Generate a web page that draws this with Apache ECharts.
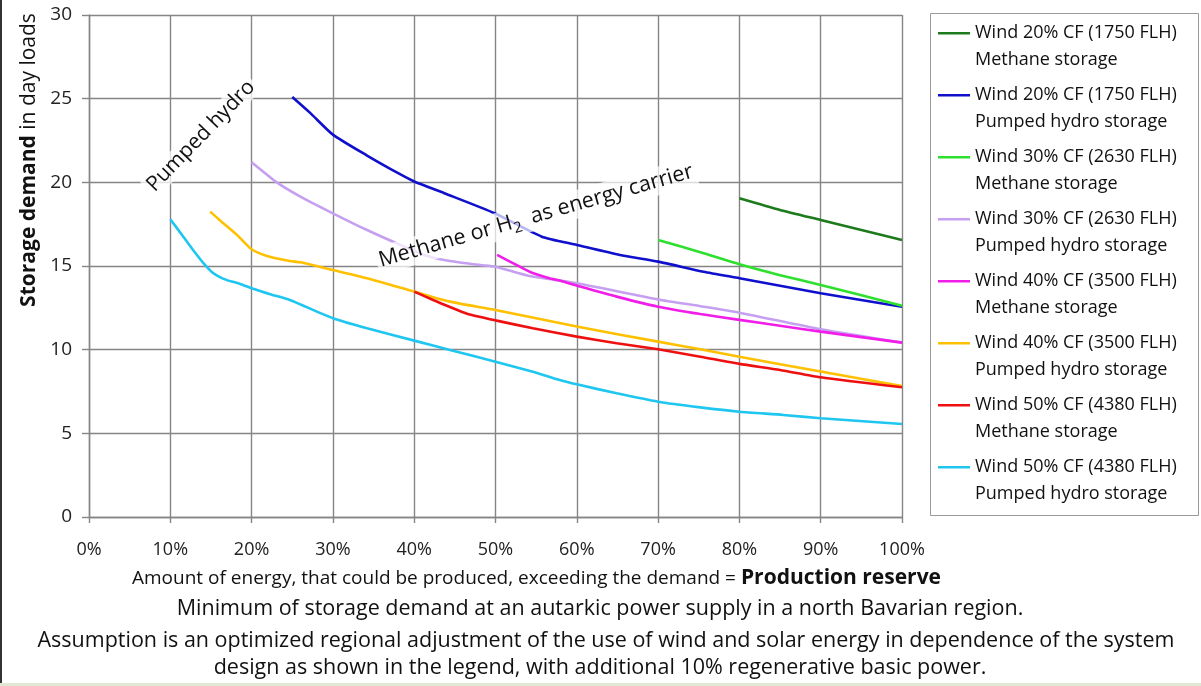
<!DOCTYPE html>
<html>
<head>
<meta charset="utf-8">
<script src="https://cdn.jsdelivr.net/npm/echarts@6/dist/echarts.min.js"></script>
<style>
html,body{margin:0;padding:0;background:#fff;}
#chart{width:1201px;height:686px;}
</style>
</head>
<body>
<div id="chart"></div>
<script>
// ---- data (x = production reserve %, y = storage demand in day loads) ----
const xTicks = [0, 10, 20, 30, 40, 50, 60, 70, 80, 90, 100];
const yTicks = [0, 5, 10, 15, 20, 25, 30];

const seriesNames = [
  'Wind 20% CF (1750 FLH)\nMethane storage',
  'Wind 20% CF (1750 FLH)\nPumped hydro storage',
  'Wind 30% CF (2630 FLH)\nMethane storage',
  'Wind 30% CF (2630 FLH)\nPumped hydro storage',
  'Wind 40% CF (3500 FLH)\nMethane storage',
  'Wind 40% CF (3500 FLH)\nPumped hydro storage',
  'Wind 50% CF (4380 FLH)\nMethane storage',
  'Wind 50% CF (4380 FLH)\nPumped hydro storage'
];
const seriesColors = ['#1d7a1d', '#1010cc', '#2ee02e', '#c6a0f0', '#f01ee8', '#ffc000', '#ee1010', '#1ec6f0'];

const wind20Methane = [[80,19.05],[85,18.35],[90,17.75],[95,17.15],[100,16.55]];
const wind20Pumped = [[25,25.1],[27.2,24.15],[30,22.85],[34.2,21.6],[38.2,20.5],[40,20.05],[43.7,19.35],[49.9,18.15],[55.7,16.75],[60,16.26],[65.3,15.66],[70,15.26],[75.6,14.66],[80,14.27],[90,13.37],[100,12.57]];
const wind30Methane = [[70,16.56],[75.6,15.76],[80,15.1],[85,14.45],[90,13.87],[100,12.62]];
const wind30Pumped = [[20,21.2],[23.1,20.0],[26,19.15],[30,18.15],[34.2,17.15],[38.3,16.26],[41.6,15.6],[44.4,15.3],[48.1,15.06],[50,14.96],[54.2,14.4],[60,13.97],[70,13.0],[75.2,12.6],[80,12.21],[90,11.22],[100,10.42]];
const wind40Methane = [[50.2,15.66],[52.2,15.16],[54.2,14.66],[56.3,14.32],[58.3,14.07],[60.4,13.77],[64.9,13.17],[70,12.57],[75.2,12.13],[80,11.78],[85.4,11.4],[90,11.08],[100,10.42]];
const wind40Pumped = [[14.9,18.25],[16.3,17.65],[18.2,16.86],[20,16.0],[21.9,15.6],[24.7,15.3],[26,15.22],[30,14.76],[34.2,14.27],[40,13.47],[44.4,12.87],[50,12.37],[60,11.38],[70,10.48],[75.2,10.02],[80,9.58],[90,8.69],[100,7.82]];
const wind50Methane = [[40,13.47],[42.4,12.95],[44.4,12.55],[46.5,12.15],[50,11.75],[54.6,11.28],[60,10.78],[64.9,10.38],[70,10.02],[75.2,9.58],[80,9.15],[85,8.79],[90,8.35],[100,7.75]];
const wind50Pumped = [[10,17.79],[11.6,16.75],[12.8,15.96],[14.1,15.16],[15.3,14.57],[16.9,14.17],[18.6,13.93],[20,13.67],[22.3,13.31],[24.7,12.97],[30,11.88],[34.2,11.28],[40,10.54],[44.4,9.98],[50,9.28],[54.6,8.68],[57.9,8.19],[60,7.93],[64.9,7.39],[70,6.89],[75.2,6.55],[80,6.29],[85.4,6.1],[90,5.9],[100,5.56]];

const seriesData = [wind20Methane, wind20Pumped, wind30Methane, wind30Pumped, wind40Methane, wind40Pumped, wind50Methane, wind50Pumped];

const captionLines = [
  'Minimum of storage demand at an autarkic power supply in a north Bavarian region.',
  'Assumption is an optimized regional adjustment of the use of wind and solar energy in dependence of the system',
  'design as shown in the legend, with additional 10% regenerative basic power.'
];

// ---- chart ----
const FONT = 'Open Sans';
const chart = echarts.init(document.getElementById('chart'), null, {renderer: 'canvas'});
const gridColor = '#858585';

const option = {
  backgroundColor: '#ffffff',
  animation: false,
  textStyle: {fontFamily: FONT},
  grid: {left: 89, right: 299, top: 15, bottom: 169, containLabel: false},
  xAxis: {
    type: 'value', min: xTicks[0], max: xTicks[xTicks.length - 1], interval: 10,
    axisLine: {show: true, lineStyle: {color: gridColor, width: 1.4}},
    axisTick: {show: true, length: 6, lineStyle: {color: gridColor, width: 1.4}},
    splitLine: {show: true, lineStyle: {color: gridColor, width: 1.4}},
    axisLabel: {formatter: '{value}%', fontSize: 18, color: '#222', margin: 24, fontFamily: FONT},
    name: '{r|Amount of energy, that could be produced, exceeding the demand = }{b|Production reserve}',
    nameLocation: 'middle', nameGap: 51,
    nameTextStyle: {
      padding: [0, 0, 0, 82],
      rich: {
        r: {fontSize: 19, color: '#111', fontFamily: FONT},
        b: {fontSize: 21, fontWeight: 'bold', color: '#111', fontFamily: FONT}
      }
    }
  },
  yAxis: {
    type: 'value', min: yTicks[0], max: yTicks[yTicks.length - 1], interval: 5,
    axisLine: {show: true, lineStyle: {color: gridColor, width: 1.4}},
    axisTick: {show: true, length: 7, lineStyle: {color: gridColor, width: 1.4}},
    splitLine: {show: true, lineStyle: {color: gridColor, width: 1.4}},
    axisLabel: {fontSize: 19, color: '#222', margin: 17, fontFamily: FONT},
    name: '{b|Storage demand}{r| in day loads}',
    nameLocation: 'middle', nameRotate: 90, nameGap: 45,
    nameTextStyle: {
      padding: [0, 0, 0, 212],
      rich: {
        r: {fontSize: 21, color: '#111', fontFamily: FONT},
        b: {fontSize: 21, fontWeight: 'bold', color: '#111', fontFamily: FONT}
      }
    }
  },
  legend: {
    orient: 'vertical', left: 930, top: 13,
    itemWidth: 32, itemHeight: 28, itemGap: 8,
    icon: 'path://M0,0H32V2.6H0Z M0,27.9H0.02V28H0Z',
    padding: [6, 0, 8, 8],
    borderWidth: 0,
    textStyle: {fontSize: 18, lineHeight: 27, color: '#111', fontFamily: FONT},
    data: seriesNames
  },
  series: seriesNames.map((n, i) => ({
    name: n, type: 'line', data: seriesData[i], smooth: 0.2,
    showSymbol: false, symbol: 'none',
    color: seriesColors[i],
    lineStyle: {width: 2.6, color: seriesColors[i]},
    z: 3 + i
  })),
  graphic: [
    {type: 'rect', left: 0, top: 0, shape: {width: 2, height: 686}, style: {fill: '#333'}, z: 200},
    {type: 'rect', left: 0, top: 683, shape: {width: 1201, height: 3}, style: {fill: '#dfe8d4'}, z: 200},
    {type: 'rect', shape: {x: 930.5, y: 13.5, width: 268, height: 502}, style: {fill: 'none', stroke: '#9a9a9a', lineWidth: 1}, z: 50, silent: true},
    {
      type: 'text', x: 201, y: 136, rotation: 46 * Math.PI / 180, z: 100,
      style: {
        text: 'Pumped hydro', fontSize: 21, fontFamily: FONT, fill: '#111',
        align: 'center', verticalAlign: 'middle',
        backgroundColor: 'rgba(255,255,255,0.75)', padding: [1, 3]
      }
    },
    {
      type: 'text', x: 536, y: 216, rotation: 16 * Math.PI / 180, z: 100,
      style: {
        text: '{n|Methane or H}{s|2}{n|  as energy carrier}',
        align: 'center', verticalAlign: 'middle',
        backgroundColor: 'rgba(255,255,255,0.7)', padding: [0, 3],
        rich: {
          n: {fontSize: 21.5, lineHeight: 28, fontFamily: FONT, fill: '#111', verticalAlign: 'middle'},
          s: {fontSize: 15, lineHeight: 15, fontFamily: FONT, fill: '#111', verticalAlign: 'bottom'}
        }
      }
    },
    {type: 'text', x: 600, y: 609, z: 100, style: {text: captionLines[0], fontSize: 21.5, fontFamily: FONT, fill: '#111', align: 'center', verticalAlign: 'middle'}},
    {type: 'text', x: 606, y: 641, z: 100, style: {text: captionLines[1], fontSize: 21.5, fontFamily: FONT, fill: '#111', align: 'center', verticalAlign: 'middle'}},
    {type: 'text', x: 600, y: 668, z: 100, style: {text: captionLines[2], fontSize: 21.5, fontFamily: FONT, fill: '#111', align: 'center', verticalAlign: 'middle'}}
  ]
};
chart.setOption(option);
</script>
</body>
</html>
